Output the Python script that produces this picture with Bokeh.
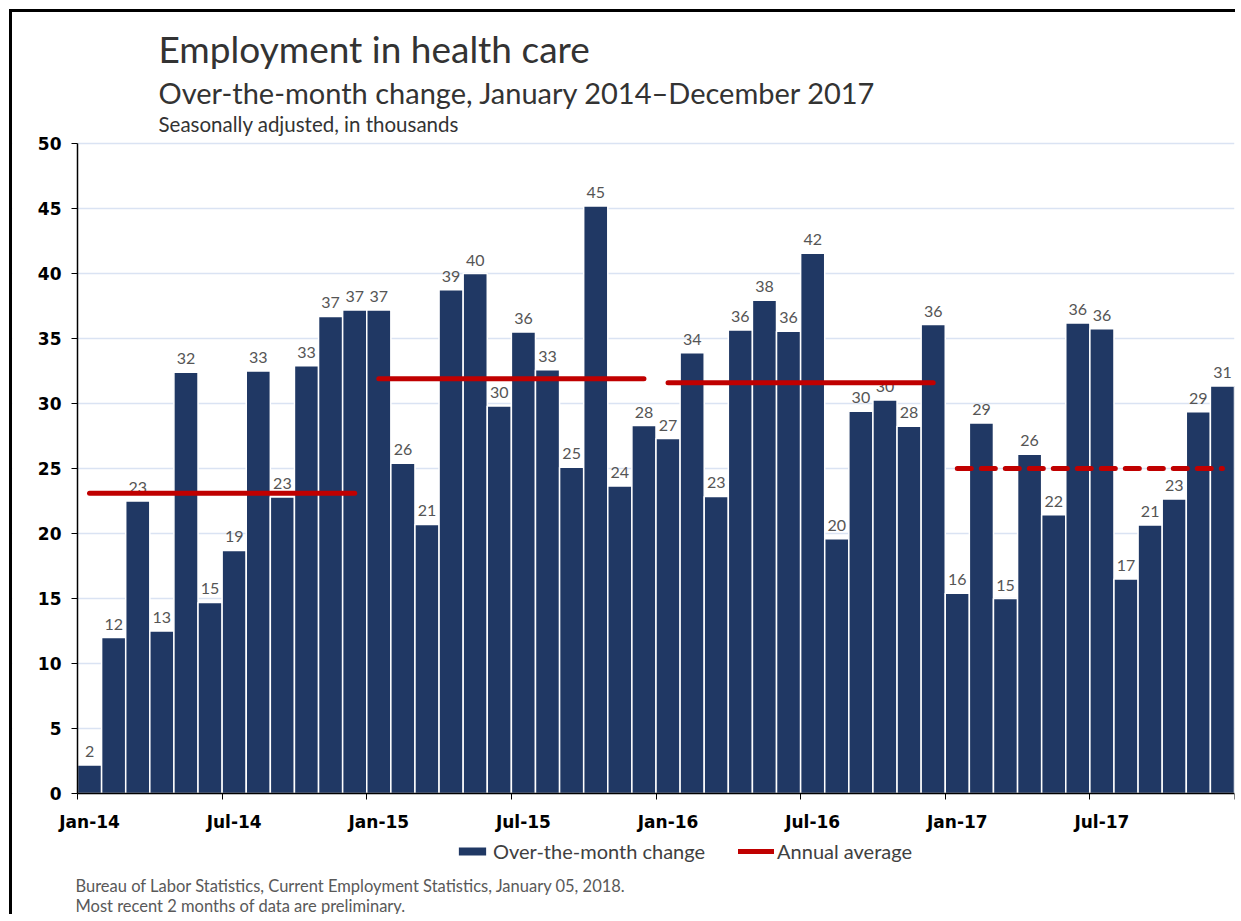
import numpy as np
from bokeh.plotting import figure
from bokeh.models import (ColumnDataSource, FixedTicker, Legend, LegendItem, Range1d)
from bokeh.embed import file_html
from bokeh.resources import INLINE
from bokeh.core.properties import value

# ---- data ----
month_names = ["Jan", "Feb", "Mar", "Apr", "May", "Jun",
               "Jul", "Aug", "Sep", "Oct", "Nov", "Dec"]
years_short = ["14", "15", "16", "17"]
months = [f"{m}-{y}" for y in years_short for m in month_names]

values_2014 = [2.2, 12.0, 22.5, 12.5, 32.4, 14.7, 18.7, 32.5, 22.8, 32.9, 36.7, 37.2]
values_2015 = [37.2, 25.4, 20.7, 38.75, 40.0, 29.8, 35.5, 32.6, 25.1, 45.2, 23.65, 28.3]
values_2016 = [27.3, 33.9, 22.85, 35.65, 37.95, 35.55, 41.55, 19.6, 29.4, 30.26, 28.25, 36.07]
values_2017 = [15.4, 28.5, 15.0, 26.1, 21.45, 36.2, 35.75, 16.5, 20.65, 22.65, 29.36, 31.34]
values = values_2014 + values_2015 + values_2016 + values_2017

labels = [2, 12, 23, 13, 32, 15, 19, 33, 23, 33, 37, 37,
          37, 26, 21, 39, 40, 30, 36, 33, 25, 45, 24, 28,
          27, 34, 23, 36, 38, 36, 42, 20, 30, 30, 28, 36,
          16, 29, 15, 26, 22, 36, 36, 17, 21, 23, 29, 31]

annual_avg = [23.1, 31.9, 31.6, 25.0]
preliminary_year = [False, False, False, True]

tick_labels = ["Jan-14", "Jul-14", "Jan-15", "Jul-15",
               "Jan-16", "Jul-16", "Jan-17", "Jul-17"]
y_ticks = [0, 5, 10, 15, 20, 25, 30, 35, 40, 45, 50]

titles = ["Employment in health care",
          "Over-the-month change, January 2014\u2013December 2017",
          "Seasonally adjusted, in thousands"]
footnotes = ["Bureau of Labor Statistics, Current Employment Statistics, January 05, 2018.",
             "Most recent 2 months of data are preliminary."]
legend_labels = ["Over-the-month change", "Annual average"]

# ---- styling / layout ----
NAVY = "#203864"
RED = "#C00000"
TITLE_FONT = "Lato"
AXIS_FONT = "DejaVu Sans"
W, H = 1226, 905
AXIS_LEFT_PX, RIGHT_PAD_PX = 65, 4        # y-axis position from canvas left, right gap
PLOT_TOP_PX, PLOT_H_PX = 131, 650         # y=50 line from canvas top, height of 0..50
Y_MAX = 50
n = len(values)

px_per_y = PLOT_H_PX / Y_MAX
px_per_x = (W - AXIS_LEFT_PX - RIGHT_PAD_PX) / n
y_hi = Y_MAX + PLOT_TOP_PX / px_per_y
y_lo = -(H - PLOT_TOP_PX - PLOT_H_PX) / px_per_y
x_lo = -AXIS_LEFT_PX / px_per_x


def below_zero(px):
    return -px / px_per_y


def above_top(px):
    return Y_MAX + px / px_per_y


def right_of_axis(px):
    return px / px_per_x


xc = np.arange(n) + 0.5
src = ColumnDataSource(dict(x=xc, v=values, lab=[str(l) for l in labels], month=months))

p = figure(width=W, height=H, x_range=Range1d(x_lo, n), y_range=Range1d(y_lo, y_hi),
           output_backend="svg", toolbar_location=None,
           min_border_left=0, min_border_right=RIGHT_PAD_PX, min_border_top=0,
           min_border_bottom=0, outline_line_color=None,
           background_fill_color="white", border_fill_color="white")
p.title.visible = False
p.styles = {"border-top": "3px solid black", "border-left": "3px solid black",
            "margin-top": "9px", "margin-left": "9px"}

p.xgrid.grid_line_color = None
p.ygrid.ticker = FixedTicker(ticks=y_ticks)
p.ygrid.grid_line_color = "#dae3f3"
p.ygrid.grid_line_width = 1.5

# white mask so the grid starts at the y axis
p.quad(left=[x_lo], right=[0], bottom=[-0.2], top=[Y_MAX + 0.2],
       fill_color="white", line_color=None)

bars = p.vbar(x="x", top="v", width=1.0, source=src, fill_color=NAVY,
              line_color="white", line_width=1.5)

p.text(x="x", y="v", text="lab", source=src, text_align="center",
       text_baseline="bottom", y_offset=-8, text_font=value(TITLE_FONT),
       text_font_size="16px", text_color="#555555")

avg_renderers = []
for i, avg in enumerate(annual_avg):
    x0 = i * 12 + 0.5
    x1 = i * 12 + 11.5
    r = p.line([x0, x1], [avg, avg], line_width=5, line_color=RED, line_cap="round",
               line_dash="14 10" if preliminary_year[i] else "solid")
    avg_renderers.append(r)

# ---- axes (pinned to x=0 / y=0 inside the frame) ----
tick_pos = [k * 6 + 0.5 for k in range(len(tick_labels))]
xax = p.xaxis[0]
xax.fixed_location = 0
xax.bounds = (0, n)
xax.ticker = FixedTicker(ticks=tick_pos, minor_ticks=[k * 6 for k in range(9)])
xax.major_label_overrides = {t: lab for t, lab in zip(tick_pos, tick_labels)}
xax.major_tick_line_color = None
xax.major_tick_out = 0
xax.major_tick_in = 0
xax.minor_tick_line_color = "black"
xax.minor_tick_out = 6
xax.minor_tick_in = 0
xax.axis_line_color = "black"
xax.axis_line_width = 1.5
xax.major_label_text_font = AXIS_FONT
xax.major_label_text_font_style = "bold"
xax.major_label_text_font_size = "17px"
xax.major_label_text_color = "black"
xax.major_label_standoff = 12

yax = p.yaxis[0]
yax.fixed_location = 0
yax.bounds = (0, Y_MAX)
yax.ticker = FixedTicker(ticks=y_ticks)
yax.minor_tick_line_color = None
yax.major_tick_out = 6
yax.major_tick_in = 0
yax.major_tick_line_color = "black"
yax.axis_line_color = "black"
yax.axis_line_width = 1.5
yax.major_label_text_font = AXIS_FONT
yax.major_label_text_font_style = "bold"
yax.major_label_text_font_size = "17px"
yax.major_label_text_color = "black"
yax.major_label_standoff = 10

# ---- titles ----
title_x = right_of_axis(81)
p.text(x=[title_x] * 3, y=[above_top(95), above_top(51), above_top(20)], text=titles,
       text_font=value(TITLE_FONT), text_font_size=["37px", "29px", "20.5px"],
       text_color="#333333", text_baseline="middle", text_align="left")

# ---- legend ----
legend = Legend(items=[LegendItem(label=legend_labels[0], renderers=[bars]),
                       LegendItem(label=legend_labels[1], renderers=[avg_renderers[0]])],
                orientation="horizontal", location=(AXIS_LEFT_PX + 377, 54),
                border_line_color=None, background_fill_alpha=0,
                label_text_font=TITLE_FONT, label_text_font_size="20px",
                label_text_color="#404040", glyph_width=36, glyph_height=12,
                label_height=20, label_standoff=3, spacing=33, padding=0, margin=0)
p.add_layout(legend, "center")

# ---- footnotes ----
p.text(x=[right_of_axis(-2)] * 2, y=[below_zero(92), below_zero(112)], text=footnotes,
       text_font=value(TITLE_FONT), text_font_size="16.5px", text_color="#595959",
       text_baseline="middle", text_align="left")

open("out.html", "w").write(file_html(p, INLINE))
